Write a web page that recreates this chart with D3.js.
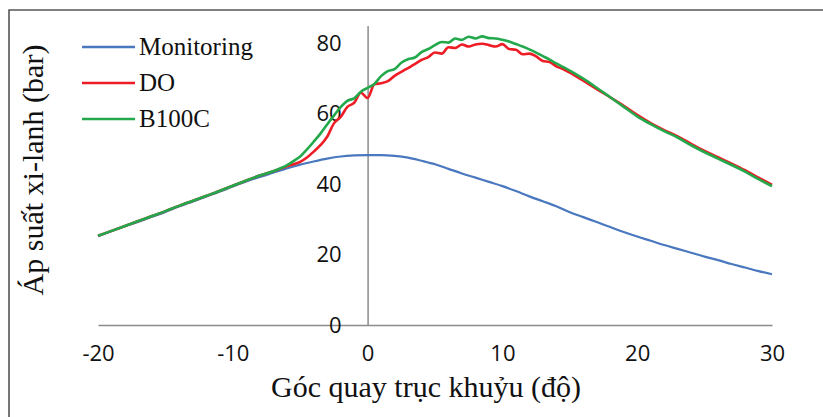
<!DOCTYPE html>
<html>
<head>
<meta charset="utf-8">
<script src="https://cdn.jsdelivr.net/npm/d3@7"></script>
<style>
  body { margin: 0; background: #fff; }
  svg { display: block; }
  .axis path { stroke: #8c8c8c; stroke-width: 1.5; }
  .axis text { font-family: "Open Sans", sans-serif; font-size: 22px; fill: #111; }
  .title { font-family: "Liberation Serif", serif; fill: #111; }
</style>
</head>
<body>
<div id="chart"></div>
<script>
/* Cylinder pressure vs crank angle */

const width = 823, height = 417;

// crank angle (deg) for the monitoring curve
const angles = d3.range(-20, 31);
const monitoring = [25.2, 26.6, 28.0, 29.3, 30.7, 32.1, 33.6, 35.0, 36.4, 37.8,
  39.3, 40.7, 42.0, 43.2, 44.4, 45.5, 46.4, 47.2, 47.8, 48.1,
  48.2, 48.2, 48.0, 47.5, 46.6, 45.6, 44.3, 43.0, 41.8, 40.6,
  39.4, 38.0, 36.5, 35.1, 33.7, 32.0, 30.6, 29.2, 27.8, 26.4,
  25.1, 23.9, 22.7, 21.6, 20.5, 19.4, 18.4, 17.3, 16.3, 15.3, 14.4];

// finer angles around TDC for the fuel curves
const fuelAngles = [-20, -19, -18, -17, -16, -15, -14, -13, -12, -11, -10, -9, -8, -7,
  -6.5, -6, -5.5, -5, -4.5, -4, -3.5, -3, -2.5, -2, -1.5, -1, -0.5, 0,
  0.5, 1, 1.5, 2, 2.5, 3, 3.5, 4, 4.5, 5, 5.5, 6, 6.5, 7, 7.5, 8, 8.5, 9, 9.5, 10,
  10.5, 11, 11.5, 12, 12.5, 13, 13.5, 14, 14.5, 15,
  16, 17, 18, 19, 20, 21, 22, 23, 24, 25, 26, 27, 28, 29, 30];

const DO = [25.3, 26.7, 28.1, 29.5, 30.9, 32.3, 33.8, 35.2, 36.6, 38.0, 39.5, 41.0, 42.4, 43.6,
  44.3, 45.0, 45.6, 46.3, 47.5, 49.2, 51.0, 53.4, 57.2, 59.0, 61.9, 63.0, 65.9, 64.4,
  68.3, 68.6, 69.2, 70.7, 71.8, 72.9, 74.0, 75.2, 76.0, 77.3, 77.0, 78.8, 78.6, 79.6, 79.0, 79.6, 79.8, 79.4, 79.0, 79.7,
  78.3, 78.1, 76.8, 77.0, 76.2, 74.9, 74.6, 73.4, 72.6, 71.6,
  69.3, 66.9, 64.6, 62.2, 59.6, 57.3, 55.3, 53.5, 51.4, 49.4, 47.6, 45.8, 43.9, 41.8, 39.8];

const B100C = [25.3, 26.7, 28.1, 29.5, 30.9, 32.3, 33.8, 35.2, 36.6, 38.0, 39.5, 41.0, 42.4, 43.6,
  44.4, 45.3, 46.5, 47.8, 49.8, 52.0, 54.3, 56.9, 59.4, 61.8, 63.6, 64.3, 66.2, 67.3,
  68.4, 70.6, 72.0, 72.6, 74.4, 75.4, 75.9, 77.4, 78.3, 79.4, 80.3, 80.1, 81.3, 80.9, 81.8, 81.3, 81.9, 81.4, 81.3, 80.9,
  80.4, 79.7, 79.0, 78.2, 77.3, 76.3, 75.3, 74.2, 73.2, 72.2,
  69.9, 67.3, 64.6, 61.9, 59.2, 57.0, 55.0, 53.2, 51.0, 49.0, 47.2, 45.4, 43.5, 41.4, 39.4];

const xTicks = [-20, -10, 0, 10, 20, 30];
const yTicks = [0, 20, 40, 60, 80];

const series = [
  { name: "Monitoring", color: "#4a78bf", width: 2.2, xs: angles, ys: monitoring },
  { name: "DO", color: "#ee1c25", width: 2.6, xs: fuelAngles, ys: DO },
  { name: "B100C", color: "#23a84b", width: 2.6, xs: fuelAngles, ys: B100C }
];

const svg = d3.select("#chart")
  .append("svg")
  .attr("width", width)
  .attr("height", height);

// outer frame
svg.append("path")
  .attr("d", `M9,${height + 5} V10 H${width + 5}`)
  .attr("fill", "none")
  .attr("stroke", "#555")
  .attr("stroke-width", 1.6);

let x = d3.scaleLinear()
  .domain([-20, 30])
  .range([98, 772]);

let y = d3.scaleLinear()
  .domain([0, 85])
  .range([325, 25.4]);

// X axis along y = 0 (plain hyphen for negatives, like the original)
svg.append("g")
  .attr("class", "axis x-axis")
  .attr("transform", `translate(0,${y(0)})`)
  .call(d3.axisBottom(x).tickValues(xTicks).tickSize(0).tickPadding(20).tickFormat(d => String(d)));

// Y axis at x = 0
svg.append("g")
  .attr("class", "axis y-axis")
  .attr("transform", `translate(${x(0)},0)`)
  .call(d3.axisLeft(y).tickValues(yTicks).tickSize(0).tickPadding(26));

svg.selectAll(".axis .tick line").remove();

let line = d3.line()
  .x(d => x(d[0]))
  .y(d => y(d[1]))
  .curve(d3.curveMonotoneX);

svg.selectAll(".series")
  .data(series)
  .join("path")
  .attr("class", "series")
  .attr("d", s => line(s.xs.map((a, i) => [a, s.ys[i]])))
  .attr("fill", "none")
  .attr("stroke", s => s.color)
  .attr("stroke-width", s => s.width)
  .attr("stroke-linejoin", "round");

// legend
const legend = svg.append("g")
  .selectAll("g")
  .data(series)
  .join("g")
  .attr("transform", (d, i) => `translate(82,${47 + i * 36})`);

legend.append("line")
  .attr("x1", 0).attr("x2", 53)
  .attr("stroke", d => d.color)
  .attr("stroke-width", 2.6);

legend.append("text")
  .attr("class", "title")
  .attr("x", 57)
  .attr("dy", "0.33em")
  .style("font-size", "25px")
  .text(d => d.name);

// axis titles
svg.append("text")
  .attr("class", "title")
  .attr("text-anchor", "middle")
  .attr("x", 426)
  .attr("y", 397)
  .style("font-size", "30px")
  .text("Góc quay trục khuỷu (độ)");

svg.append("text")
  .attr("class", "title")
  .attr("text-anchor", "middle")
  .attr("transform", "translate(43,170) rotate(-90)")
  .style("font-size", "30px")
  .text("Áp suất xi-lanh (bar)");
</script>
</body>
</html>
